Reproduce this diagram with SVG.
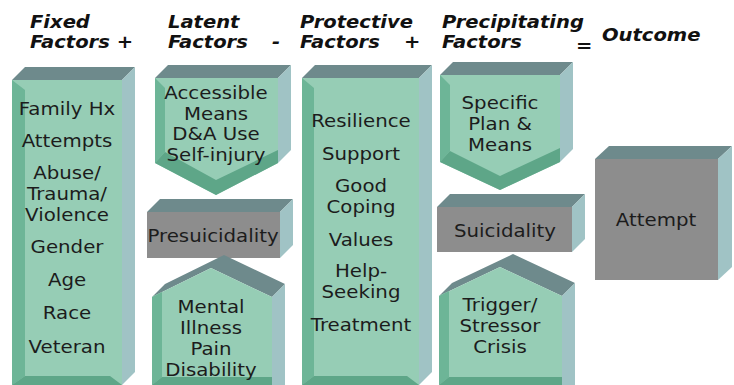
<svg xmlns="http://www.w3.org/2000/svg" width="734" height="385" viewBox="0 0 734 385">
<style>
.front{fill:#96cdb5}
.gray{fill:#8d8d8d}
.lb{fill:#6db597}
.bb{fill:#5ea688}
.side{fill:#a0c3c5}
.top{fill:#6e8a8c}
.hd{font-family:"DejaVu Sans","Liberation Sans",sans-serif;font-weight:bold;font-style:italic;font-size:17px;fill:#111}
.tx{font-family:"DejaVu Sans","Liberation Sans",sans-serif;font-size:17.5px;fill:#1c1c1c;text-anchor:middle}
</style>
<rect width="734" height="385" fill="#ffffff"/>
<g id="headers">
<text class="hd" transform="matrix(1.15 0 0 1 30 28)">Fixed</text>
<text class="hd" transform="matrix(1.15 0 0 1 30 48)">Factors +</text>
<text class="hd" transform="matrix(1.15 0 0 1 168 28)">Latent</text>
<text class="hd" transform="matrix(1.15 0 0 1 168 48)">Factors</text>
<text class="hd" transform="matrix(1.15 0 0 1 272 48)">-</text>
<text class="hd" transform="matrix(1.15 0 0 1 300 28)">Protective</text>
<text class="hd" transform="matrix(1.15 0 0 1 300 48)">Factors</text>
<text class="hd" transform="matrix(1.15 0 0 1 404 48)">+</text>
<text class="hd" transform="matrix(1.15 0 0 1 442 28)">Precipitating</text>
<text class="hd" transform="matrix(1.15 0 0 1 442 48)">Factors</text>
<text class="hd" transform="matrix(1.15 0 0 1 576 52)">=</text>
<text class="hd" transform="matrix(1.15 0 0 1 602 41)">Outcome</text>
</g>
<g id="connectors"></g>
<g id="fixed">
<polygon class="top" points="12,80 25,67 135,67 122,80"/>
<polygon class="side" points="122,80 135,67 135,372 122,385"/>
<rect class="front" x="12" y="80" width="110" height="305"/>
<polygon class="lb" points="12,80 25,90 25,376 12,385"/>
<polygon class="bb" points="12,385 25,376 110,376 122,385"/>
<g transform="matrix(1.13 0 0 1 67 0)">
<text class="tx" x="0" y="115">Family Hx</text>
<text class="tx" x="0" y="147">Attempts</text>
<text class="tx" x="0" y="179">Abuse/</text>
<text class="tx" x="0" y="200">Trauma/</text>
<text class="tx" x="0" y="221">Violence</text>
<text class="tx" x="0" y="253">Gender</text>
<text class="tx" x="0" y="286">Age</text>
<text class="tx" x="0" y="319">Race</text>
<text class="tx" x="0" y="353">Veteran</text>
</g>
</g>
<g id="latent">
<polygon class="top" points="155,78 168,65 291,65 278,78"/>
<polygon class="side" points="278,78 291,65 291,150 278,163"/>
<polygon class="front" points="155,78 278,78 278,163 216,195 155,163"/>
<polygon class="lb" points="155,78 165,88 165,152 155,163"/>
<polygon class="bb" points="155,163 165,152 216,180 278,150 278,163 216,195"/>
<g transform="matrix(1.13 0 0 1 216 0)">
<text class="tx" x="0" y="99.5">Accessible</text>
<text class="tx" x="0" y="120">Means</text>
<text class="tx" x="0" y="140.5">D&amp;A Use</text>
<text class="tx" x="0" y="161">Self-injury</text>
</g>
</g>
<g id="presuicidality">
<polygon class="top" points="147,212 160,199 293,199 280,212"/>
<polygon class="side" points="280,212 293,199 293,245 280,258"/>
<rect class="gray" x="147" y="212" width="133" height="46"/>
<text class="tx" transform="matrix(1.13 0 0 1 213 242)">Presuicidality</text>
</g>
<g id="mental">
<polygon class="top" points="152,297 211,268 272,297 285,284 224,255 165,284"/>
<polygon class="side" points="272,297 285,284 285,385 272,385"/>
<polygon class="front" points="152,297 211,268 272,297 272,385 152,385"/>
<polygon class="lb" points="152,297 162,292 162,377 152,385"/>
<polygon class="bb" points="152,385 162,377 272,377 272,385"/>
<g transform="matrix(1.13 0 0 1 211 0)">
<text class="tx" x="0" y="313">Mental</text>
<text class="tx" x="0" y="334">Illness</text>
<text class="tx" x="0" y="355">Pain</text>
<text class="tx" x="0" y="376">Disability</text>
</g>
</g>
<g id="protective">
<polygon class="top" points="302,78 315,65 432,65 419,78"/>
<polygon class="side" points="419,78 432,65 432,372 419,385"/>
<rect class="front" x="302" y="78" width="117" height="307"/>
<polygon class="lb" points="302,78 314,88 314,376 302,385"/>
<polygon class="bb" points="302,385 314,376 407,376 419,385"/>
<g transform="matrix(1.13 0 0 1 361 0)">
<text class="tx" x="0" y="127">Resilience</text>
<text class="tx" x="0" y="160">Support</text>
<text class="tx" x="0" y="192.5">Good</text>
<text class="tx" x="0" y="213">Coping</text>
<text class="tx" x="0" y="246">Values</text>
<text class="tx" x="0" y="277.5">Help-</text>
<text class="tx" x="0" y="298">Seeking</text>
<text class="tx" x="0" y="331">Treatment</text>
</g>
</g>
<g id="precipitating">
<polygon class="top" points="440,75 453,62 573,62 560,75"/>
<polygon class="side" points="560,75 573,62 573,149 560,162"/>
<polygon class="front" points="440,75 560,75 560,162 500,190 440,162"/>
<polygon class="lb" points="440,75 450,85 450,151 440,162"/>
<polygon class="bb" points="440,162 450,151 500,176 560,148 560,162 500,190"/>
<g transform="matrix(1.13 0 0 1 500 0)">
<text class="tx" x="0" y="109">Specific</text>
<text class="tx" x="0" y="130">Plan &amp;</text>
<text class="tx" x="0" y="151">Means</text>
</g>
</g>
<g id="suicidality">
<polygon class="top" points="437,207 450,194 585,194 572,207"/>
<polygon class="side" points="572,207 585,194 585,239 572,252"/>
<rect class="gray" x="437" y="207" width="135" height="45"/>
<text class="tx" transform="matrix(1.13 0 0 1 505 237)">Suicidality</text>
</g>
<g id="trigger">
<polygon class="top" points="439,296 500,267 562,296 575,283 513,254 452,283"/>
<polygon class="side" points="562,296 575,283 575,385 562,385"/>
<polygon class="front" points="439,296 500,267 562,296 562,385 439,385"/>
<polygon class="lb" points="439,296 449,291 449,377 439,385"/>
<polygon class="bb" points="439,385 449,377 562,377 562,385"/>
<g transform="matrix(1.13 0 0 1 500 0)">
<text class="tx" x="0" y="311">Trigger/</text>
<text class="tx" x="0" y="332">Stressor</text>
<text class="tx" x="0" y="353">Crisis</text>
</g>
</g>
<g id="attempt">
<polygon class="top" points="595,159 609,146 732,146 718,159"/>
<polygon class="side" points="718,159 732,146 732,267 718,280"/>
<rect class="gray" x="595" y="159" width="123" height="121"/>
<text class="tx" transform="matrix(1.13 0 0 1 656 226)">Attempt</text>
</g>
</svg>
